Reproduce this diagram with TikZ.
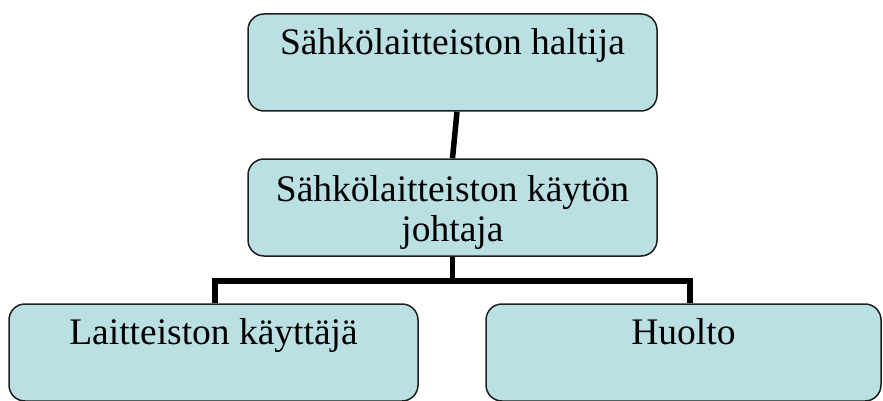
\documentclass[tikz,border=0pt]{standalone}
\usepackage{fontspec}
\setmainfont{Liberation Serif}
\usetikzlibrary{calc}
\definecolor{boxfill}{HTML}{BBE0E3}
\definecolor{boxline}{HTML}{1E1E1E}
\tikzset{
  orgbox/.style={draw=boxline, line width=1.5pt, fill=boxfill, rounded corners=16pt,
    minimum height=97pt, inner sep=0pt},
  orgtext/.style={font=\fontsize{37.5}{40}\selectfont, align=center, inner sep=0pt, anchor=base},
  link/.style={line width=5.5pt, black}
}
\begin{document}
\begin{tikzpicture}[x=1pt, y=-1pt]
  \useasboundingbox (0,0) rectangle (883,401);
  % boxes (x, y measured from the top edge)
  \node[orgbox, minimum width=409pt] (haltija) at (452.5,62.5) {};
  \node[orgbox, minimum width=409pt] (johtaja) at (452.5,207.5) {};
  \node[orgbox, minimum width=409pt] (kayttaja) at (213.5,352.5) {};
  \node[orgbox, minimum width=395pt] (huolto) at (683.5,352.5) {};
  % labels (a two-line label sits on the baseline of its last line)
  \node[orgtext] (thaltija) at ($(haltija.north)+(0,41)$) {Sähkölaitteiston haltija};
  \node[orgtext] (tjohtaja) at ($(johtaja.north)+(0,83)$) {Sähkölaitteiston käytön\\johtaja};
  \node[orgtext] (tkayttaja) at ($(kayttaja.north)+(0,41)$) {Laitteiston käyttäjä};
  \node[orgtext] (thuolto) at ($(huolto.north)+(0,41)$) {Huolto};
  % connectors
  \coordinate (bus) at ($(johtaja.south)+(0,24)$);
  \draw[link] ($(haltija.south)+(4.5,0)$) -- (johtaja.north);
  \draw[link] (johtaja.south) -- (bus);
  \draw[link] ($(kayttaja.north)+(1.5,0)$) |- (bus) -| ($(huolto.north)+(6.5,0)$);
\end{tikzpicture}
\end{document}
